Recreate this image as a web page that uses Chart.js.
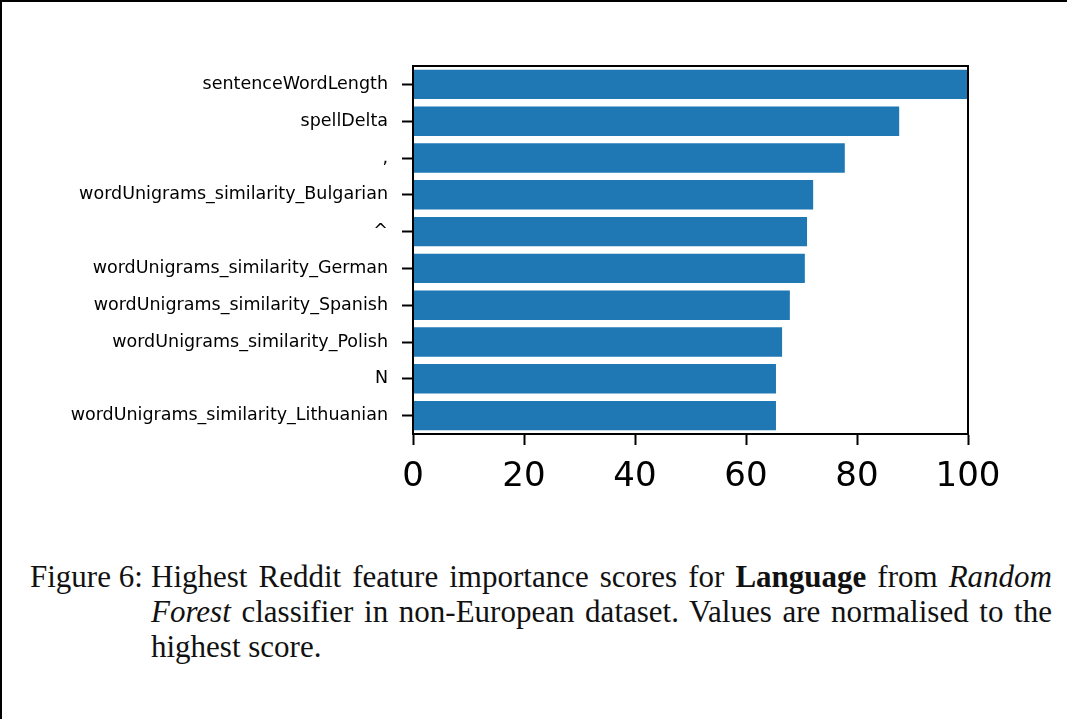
<!DOCTYPE html>
<html>
<head>
<meta charset="utf-8">
<script src="https://cdn.jsdelivr.net/npm/chart.js@4.4.0/dist/chart.umd.min.js"></script>
<style>
  html, body { margin: 0; padding: 0; background: #fff; }
  #page {
    position: relative;
    width: 1067px;
    height: 719px;
    box-sizing: border-box;
    border-left: 2px solid #000;
    border-top: 2px solid #000;
    overflow: hidden;
  }
  #chartBox {
    position: absolute;
    left: -2px;
    top: -2px;
    width: 1067px;
    height: 520px;
  }
  #caption {
    position: absolute;
    left: 28px;
    top: 557px;
    width: 1022px;
    font-family: "Liberation Serif", "DejaVu Serif", serif;
    font-size: 31px;
    line-height: 35px;
    color: #111;
    display: flex;
  }
  #caption .label { width: 121px; flex: none; white-space: nowrap; }
  #caption .body { flex: 1; }
  #caption .line { text-align: justify; text-align-last: justify; white-space: nowrap; }
  #caption .line.last { text-align-last: left; }
</style>
</head>
<body>
<div id="page">
  <div id="chartBox"><canvas id="featureChart" width="1067" height="520"></canvas></div>
  <div id="caption">
    <div class="label">Figure 6:</div>
    <div class="body">
      <div class="line">Highest Reddit feature importance scores for <b>Language</b> from <i>Random</i></div>
      <div class="line"><i>Forest</i> classifier in non-European dataset. Values are normalised to the</div>
      <div class="line last">highest score.</div>
    </div>
  </div>
</div>

<script>
const FEATURES = [
  "sentenceWordLength",
  "spellDelta",
  ",",
  "wordUnigrams_similarity_Bulgarian",
  "^",
  "wordUnigrams_similarity_German",
  "wordUnigrams_similarity_Spanish",
  "wordUnigrams_similarity_Polish",
  "N",
  "wordUnigrams_similarity_Lithuanian",
];

const IMPORTANCE = [100, 87.6, 77.8, 72.1, 71.0, 70.6, 67.9, 66.5, 65.4, 65.4];

const X_TICKS = [0, 20, 40, 60, 80, 100];

const BAR_COLOR = "#1f77b4";

// ----- frame around the plot area (matplotlib spines) ----- //
const boxPlugin = {
  id: "boxPlugin",
  afterDraw(chart) {
    const { ctx, chartArea } = chart;
    ctx.save();
    ctx.strokeStyle = "#000";
    ctx.lineWidth = 2;
    ctx.strokeRect(chartArea.left, chartArea.top,
      chartArea.right - chartArea.left, chartArea.bottom - chartArea.top);
    ctx.restore();
  },
};

let ctx = document.getElementById("featureChart").getContext("2d");

new Chart(ctx, {
  type: "bar",
  data: {
    labels: FEATURES,
    datasets: [
      {
        data: IMPORTANCE,
        backgroundColor: BAR_COLOR,
        borderWidth: 0,
        barPercentage: 0.8,
        categoryPercentage: 1.0,
      },
    ],
  },
  options: {
    indexAxis: "y",
    responsive: false,
    animation: false,
    layout: {
      padding: { top: 66, right: 99, left: 0, bottom: 0 },
    },
    plugins: {
      legend: { display: false },
      tooltip: { enabled: false },
    },
    scales: {
      x: {
        min: 0,
        max: 100,
        afterBuildTicks: (scale) => {
          scale.ticks = X_TICKS.map((v) => ({ value: v }));
        },
        afterFit: (scale) => {
          scale.height = 520 - 434;
        },
        grid: {
          drawOnChartArea: false,
          drawTicks: true,
          tickLength: 11,
          tickWidth: 2,
          tickColor: "#000",
        },
        border: { display: true, color: "#000", width: 2 },
        ticks: {
          color: "#000",
          padding: 12,
          font: { family: "DejaVu Sans", size: 34 },
          maxRotation: 0,
        },
      },
      y: {
        afterFit: (scale) => {
          scale.width = 413;
        },
        grid: {
          offset: false,
          drawOnChartArea: false,
          drawTicks: true,
          tickLength: 11,
          tickWidth: 2,
          tickColor: "#000",
        },
        border: { display: true, color: "#000", width: 2 },
        ticks: {
          color: "#000",
          padding: 14,
          font: { family: "DejaVu Sans", size: 17.5 },
          autoSkip: false,
        },
      },
    },
  },
  plugins: [boxPlugin],
});
</script>
</body>
</html>
